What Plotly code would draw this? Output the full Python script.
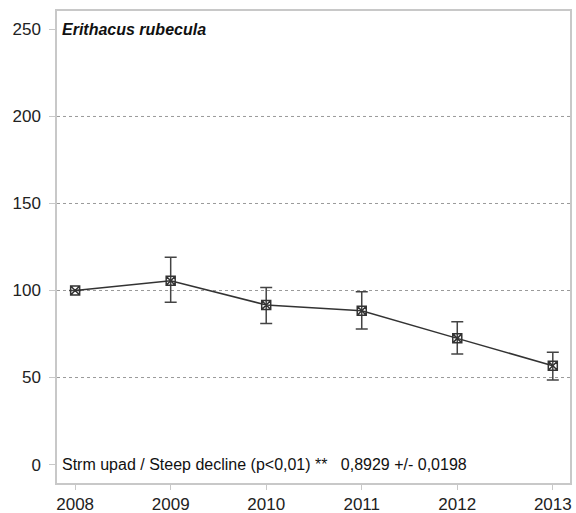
import plotly.graph_objects as go

years = [2008, 2009, 2010, 2011, 2012, 2013]
index_vals = [100, 105.6, 91.7, 88.4, 72.5, 56.8]
upper = [100, 119.1, 101.8, 99.3, 82.1, 64.5]
lower = [100, 93.2, 81.1, 77.9, 63.5, 48.6]
grid_vals = [50, 100, 150, 200]
y_ticks = [0, 50, 100, 150, 200, 250]
species = "Erithacus rubecula"
trend_text = "Strm upad / Steep decline (p<0,01) **   0,8929 +/- 0,0198"

err_plus = [u - v for u, v in zip(upper, index_vals)]
err_minus = [v - l for v, l in zip(index_vals, lower)]

fig = go.Figure()
fig.add_trace(go.Scatter(
    x=years, y=index_vals, mode="lines+markers",
    line=dict(color="#333333", width=1.5),
    marker=dict(symbol="square-x-open", size=9, color="#333333", line=dict(width=1.5)),
    error_y=dict(type="data", symmetric=False, array=err_plus, arrayminus=err_minus,
                 color="#444444", thickness=1.5, width=6),
    showlegend=False,
))

for g in grid_vals:
    fig.add_shape(type="line", xref="paper", x0=0, x1=1, yref="y", y0=g, y1=g,
                  line=dict(color="#9a9a9a", width=1, dash="dot"), layer="below")

fig.add_annotation(text="<b><i>" + species + "</i></b>", xref="paper", yref="y",
                   x=0.006, y=250, xanchor="left", yanchor="middle", showarrow=False,
                   font=dict(family="Liberation Sans, Arial", size=16, color="#111111"))
fig.add_annotation(text=trend_text, xref="paper", yref="y",
                   x=0.006, y=0, xanchor="left", yanchor="middle", showarrow=False,
                   font=dict(family="Liberation Sans, Arial", size=16, color="#111111"))

fig.update_layout(
    width=576, height=513,
    margin=dict(l=57, r=6, t=11, b=30),
    paper_bgcolor="white", plot_bgcolor="white",
    font=dict(family="Liberation Sans, Arial", size=17, color="#222222"),
    xaxis=dict(range=[2007.81, 2013.18], tickvals=years, ticktext=[str(y) for y in years],
               showgrid=False, zeroline=False, showline=True, mirror=True, automargin=False,
               linecolor="#c8c8c8", linewidth=1.5, ticks="outside", ticklen=5,
               tickcolor="#c8c8c8"),
    yaxis=dict(range=[-10.6, 260.6], tickvals=y_ticks, showgrid=False, zeroline=False,
               showline=True, mirror=True, linecolor="#c8c8c8", linewidth=1.5, automargin=False,
               ticks="outside", ticklen=6, tickcolor="#c8c8c8", ticklabelstandoff=5),
)

fig.write_html("out.html", config={"displayModeBar": False},
               post_script="document.body.style.margin='0px';document.body.style.overflow='hidden';")
